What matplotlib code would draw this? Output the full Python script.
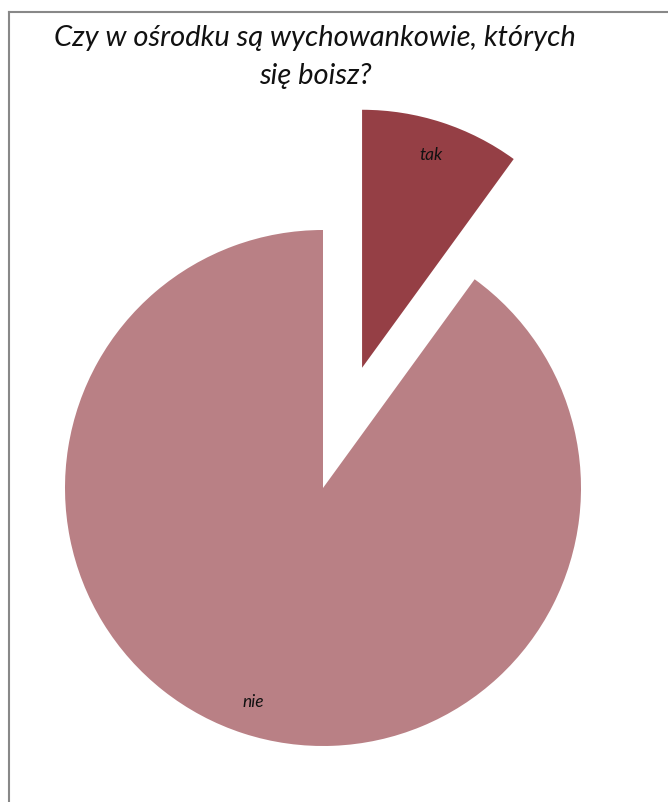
import matplotlib
matplotlib.use("Agg")
import matplotlib.pyplot as plt
from matplotlib.lines import Line2D

categories = ["tak", "nie"]
values = [10, 90]
colors = ["#953F45", "#B98085"]
title = "Czy w ośrodku są wychowankowie, których\nsię boisz?"

W, H = 668, 803
fig = plt.figure(figsize=(W / 100, H / 100), dpi=100)
fig.patch.set_facecolor("white")
ax = fig.add_axes([0, 0, 1, 1])

r = 258
ax.pie(values, labels=categories, colors=colors, startangle=90,
       counterclock=False, explode=[0.49 * r, 0], radius=r,
       center=(323, H - 489), labeldistance=0.87,
       textprops=dict(fontstyle="italic", family="Lato", fontsize=12.5,
                      color="#111111", ha="center", va="center"),
       wedgeprops=dict(linewidth=0))
ax.set_xlim(0, W)
ax.set_ylim(0, H)
ax.set_aspect("equal")
ax.axis("off")

# frame lines (top and left)
fig.add_artist(Line2D([8.5 / W, 1], [1 - 12.5 / H, 1 - 12.5 / H],
                      transform=fig.transFigure, color="#888888", lw=1.5))
fig.add_artist(Line2D([8.5 / W, 8.5 / W], [0, 1 - 12.5 / H],
                      transform=fig.transFigure, color="#888888", lw=1.5))

fig.text(315 / W, 1 - 25 / H, title, ha="center", va="top", fontsize=21,
         fontstyle="italic", family="Lato", color="#111111", linespacing=1.55)

fig.savefig("out.png", dpi=100, facecolor="white")
